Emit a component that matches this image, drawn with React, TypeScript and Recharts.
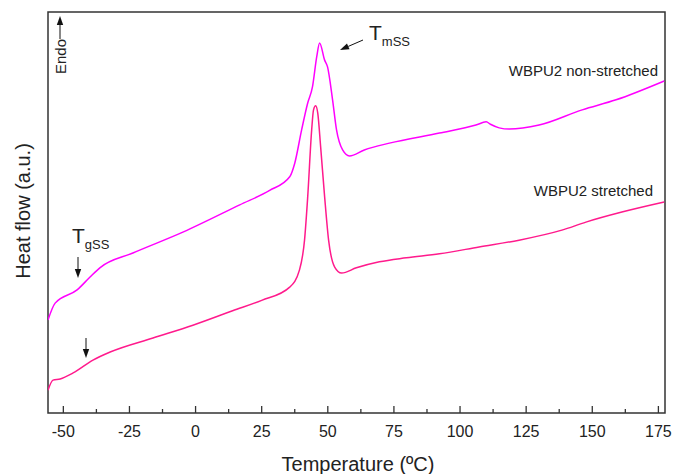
import React from 'react';
import { LineChart, Line, XAxis, YAxis, ReferenceArea } from 'recharts';

const FONT = 'Arial, "Liberation Sans", sans-serif';
const TEXT = '#222';

// temperature (ºC) and heat flow (a.u.)
const nonStretchedT = [-55.8, -53.1, -44.8, -39.9, -36.2, -23.7, -4.8, 16.7, 28.0, 35.6, 37.5, 40.1, 42.4, 44.2, 45.8, 46.9, 48.8, 49.9, 51.8, 53.3, 55.6, 58.2, 63.8, 73.3, 92.2, 106.0, 109.9, 111.5, 114.8, 118.6, 129.9, 146.2, 159.0, 177.2];
const nonStretchedY = [2.32, 2.74, 3.07, 3.39, 3.62, 3.99, 4.51, 5.19, 5.55, 5.89, 6.23, 7.06, 7.73, 8.13, 8.88, 9.23, 8.80, 8.63, 7.81, 7.06, 6.56, 6.41, 6.56, 6.73, 6.98, 7.18, 7.26, 7.20, 7.11, 7.08, 7.18, 7.56, 7.81, 8.28];

const stretchedT = [-55.8, -53.9, -51.2, -46.3, -38.8, -32.3, -16.1, -1.0, 14.0, 25.0, 35.6, 39.3, 41.2, 42.4, 43.9, 44.6, 45.4, 46.2, 47.3, 48.8, 50.3, 52.6, 55.2, 60.8, 69.5, 79.7, 92.2, 107.2, 122.3, 138.5, 147.6, 161.2, 177.2];
const stretchedY = [0.57, 0.82, 0.85, 1.00, 1.32, 1.52, 1.87, 2.19, 2.55, 2.81, 3.14, 3.57, 4.31, 5.39, 7.06, 7.56, 7.66, 7.48, 6.63, 5.39, 4.31, 3.64, 3.49, 3.62, 3.77, 3.87, 3.97, 4.14, 4.31, 4.56, 4.76, 5.01, 5.26];

const majorTicks = [-50, -25, 0, 25, 50, 75, 100, 125, 150, 175];
const minorTicks = [-37.5, -12.5, 12.5, 37.5, 62.5, 87.5, 112.5, 137.5, 162.5];
const X_MIN = -55.8;
const X_MAX = 177.5;

const nonStretched = nonStretchedT.map((t, i) => ({ t, v: nonStretchedY[i] }));
const stretched = stretchedT.map((t, i) => ({ t, v: stretchedY[i] }));
const allTicks = [...majorTicks, ...minorTicks].sort((a, b) => a - b);

const Tick = (props: any) => {
    const { x, y, payload } = props;
    const major = majorTicks.includes(payload.value);
    return (
        <g>
            <line x1={x} x2={x} y1={y} y2={y - (major ? 7 : 4)} stroke="#333" strokeWidth={1.3} />
            {major && (
                <text x={x} y={y + 24} textAnchor="middle" fontSize={16} fontFamily={FONT} fill={TEXT}>
                    {payload.value}
                </text>
            )}
        </g>
    );
};

const Arrow = ({ x1, y1, x2, y2 }: { x1: number, y1: number, x2: number, y2: number }) => {
    const a = Math.atan2(y2 - y1, x2 - x1);
    const len = 9, w = 3.2;
    const bx = x2 - len * Math.cos(a), by = y2 - len * Math.sin(a);
    const px = -Math.sin(a) * w, py = Math.cos(a) * w;
    return (
        <g>
            <line x1={x1} y1={y1} x2={bx} y2={by} stroke="#111" strokeWidth={1} />
            <polygon points={`${x2},${y2} ${bx + px},${by + py} ${bx - px},${by - py}`} fill="#111" />
        </g>
    );
};

export default function App() {
    return (
        <div style={{ position: 'absolute', left: 0, top: 0, width: 673, height: 474, background: '#fff' }}>
            <LineChart width={673} height={474} margin={{ top: 12, right: 8, bottom: 0, left: 48 }}>
                <XAxis dataKey="t" type="number" domain={[X_MIN, X_MAX]} ticks={allTicks} interval={0}
                    allowDataOverflow tickLine={false} axisLine={false} tickSize={0} tickMargin={0}
                    height={61} tick={<Tick />} />
                <YAxis hide domain={[0, 10]} />
                <ReferenceArea x1={X_MIN} x2={X_MAX} y1={0} y2={10} fill="none" stroke="#333" strokeWidth={1.5} fillOpacity={0} />
                <Line data={nonStretched} dataKey="v" type="monotone" stroke="#ff00ff" strokeWidth={1.5} dot={false} isAnimationActive={false} />
                <Line data={stretched} dataKey="v" type="monotone" stroke="#ff1a8c" strokeWidth={1.5} dot={false} isAnimationActive={false} />
            </LineChart>
            <svg width={673} height={474} style={{ position: 'absolute', left: 0, top: 0, pointerEvents: 'none' }}>
                <g fontFamily={FONT} fill={TEXT}>
                    <text x={358} y={471} textAnchor="middle" fontSize={20}>Temperature (ºC)</text>
                    <text x={30} y={211} textAnchor="middle" fontSize={20} transform="rotate(-90, 30, 211)">Heat flow (a.u.)</text>
                    <text x={66} y={74} fontSize={15} transform="rotate(-90, 66, 74)">Endo</text>
                    <text x={658} y={76} textAnchor="end" fontSize={15}>WBPU2 non-stretched</text>
                    <text x={653} y={196} textAnchor="end" fontSize={15}>WBPU2 stretched</text>
                    <text x={369} y={40} fontSize={21}>T<tspan fontSize={13} dy={6}>mSS</tspan></text>
                    <text x={72} y={243} fontSize={21}>T<tspan fontSize={13} dy={6}>gSS</tspan></text>
                </g>
                <Arrow x1={60} y1={39} x2={60} y2={16} />
                <Arrow x1={363} y1={40} x2={340} y2={50} />
                <Arrow x1={78} y1={257} x2={78} y2={278} />
                <Arrow x1={86} y1={338} x2={86} y2={358} />
            </svg>
        </div>
    );
}
